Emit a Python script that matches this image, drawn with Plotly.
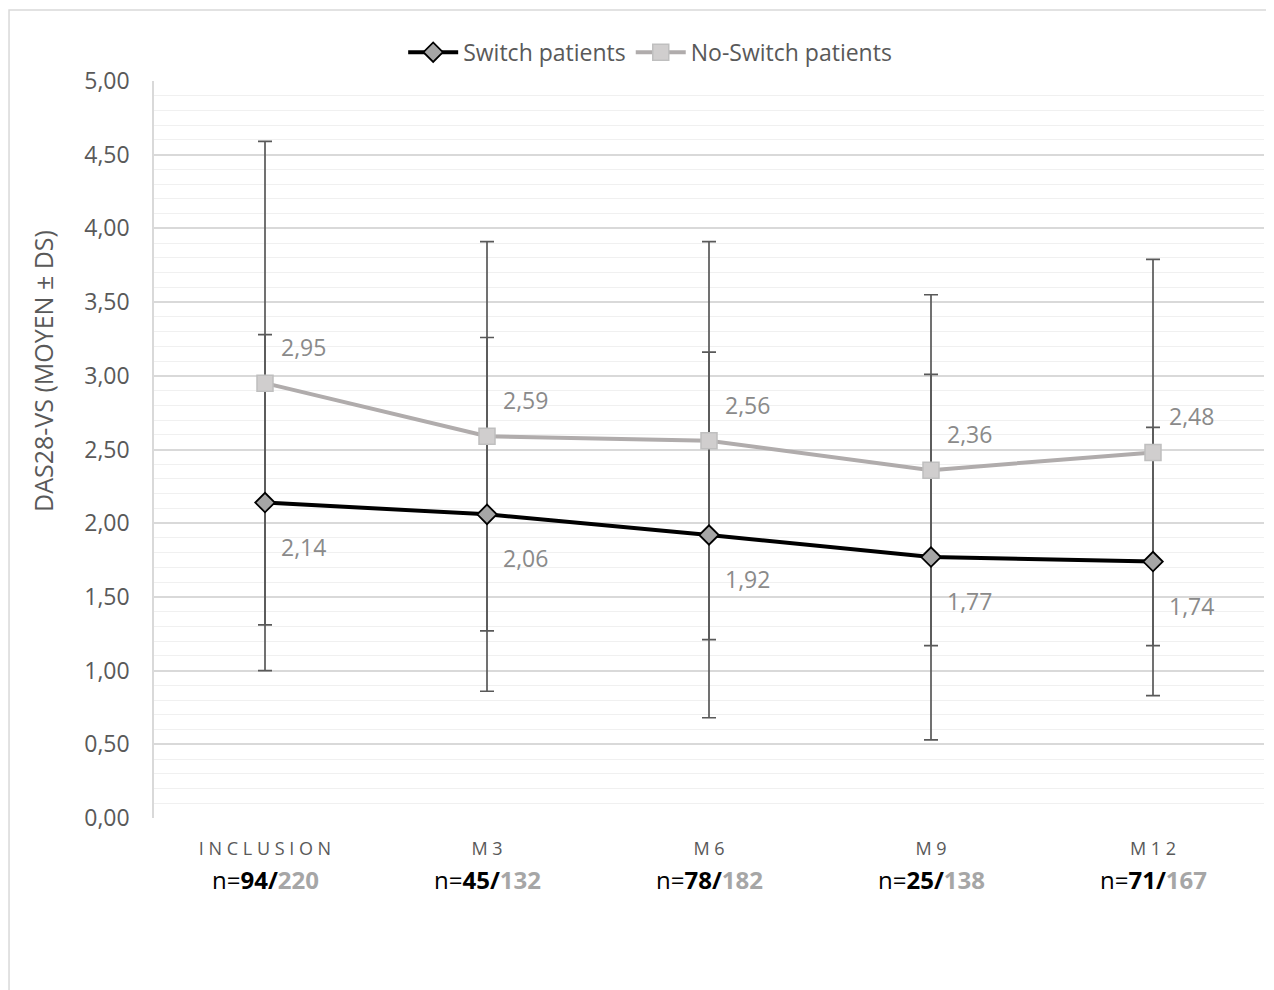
import plotly.graph_objects as go

categories = ["INCLUSION", "M3", "M6", "M9", "M12"]
tick_labels = ["I N C L U S I O N", "M 3", "M 6", "M 9", "M 1 2"]
switch_mean = [2.14, 2.06, 1.92, 1.77, 1.74]
switch_sd = [1.14, 1.20, 1.24, 1.24, 0.91]
noswitch_mean = [2.95, 2.59, 2.56, 2.36, 2.48]
noswitch_sd = [1.64, 1.32, 1.35, 1.19, 1.31]
n_switch = [94, 45, 78, 25, 71]
n_noswitch = [220, 132, 182, 138, 167]
y_title = "DAS28-VS (MOYEN ± DS)"

FONT = "Open Sans, DejaVu Sans, sans-serif"
NARROW = "Liberation Sans Narrow, Open Sans, sans-serif"
AXIS_GRAY = "#595959"
ERR = "#595959"

fig = go.Figure()

# error bars (drawn beneath the lines)
for mean, sd in [(noswitch_mean, noswitch_sd), (switch_mean, switch_sd)]:
    fig.add_trace(go.Scatter(
        x=categories, y=mean, mode="markers",
        marker=dict(size=1, opacity=0),
        error_y=dict(type="data", array=sd, visible=True, color=ERR,
                     thickness=1.7, width=7),
        showlegend=False, hoverinfo="skip"))

fig.add_trace(go.Scatter(
    x=categories, y=switch_mean, mode="lines+markers", name="Switch patients",
    line=dict(color="#000000", width=4),
    marker=dict(symbol="diamond", size=15, color="#a6a6a6",
                line=dict(color="#000000", width=1.8))))

fig.add_trace(go.Scatter(
    x=categories, y=noswitch_mean, mode="lines+markers", name="No-Switch patients",
    line=dict(color="#b0acac", width=4),
    marker=dict(symbol="square", size=16, color="#d0cece",
                line=dict(color="#bfbfbf", width=1.5))))

annotations = []
for c, v in zip(categories, noswitch_mean):
    annotations.append(dict(x=c, y=v, xref="x", yref="y", text=f"{v:.2f}".replace(".", ","),
                            showarrow=False, xshift=38, yshift=36,
                            font=dict(family=FONT, size=23, color="#8a8a8a")))
for c, v in zip(categories, switch_mean):
    annotations.append(dict(x=c, y=v, xref="x", yref="y", text=f"{v:.2f}".replace(".", ","),
                            showarrow=False, xshift=38, yshift=-44,
                            font=dict(family=FONT, size=23, color="#8a8a8a")))
for c, a, b in zip(categories, n_switch, n_noswitch):
    annotations.append(dict(x=c, y=0, xref="x", yref="y",
                            text=f"<span style='color:#000000'>n=<b>{a}/</b></span><span style='color:#a6a6a6'><b>{b}</b></span>",
                            showarrow=False, yshift=-61,
                            font=dict(family=NARROW, size=24, color="#000000")))
annotations.append(dict(x=-0.1, y=0.6065, xref="paper", yref="paper", text=y_title,
                        textangle=-90, showarrow=False, xanchor="center", yanchor="middle",
                        font=dict(family=NARROW, size=25, color=AXIS_GRAY)))

fig.update_layout(
    width=1266, height=982,
    margin=dict(l=146, r=10, t=73, b=172),
    paper_bgcolor="white", plot_bgcolor="white",
    separators=", ",
    font=dict(family=FONT, color=AXIS_GRAY),
    showlegend=True,
    legend=dict(orientation="h", x=0.447, xanchor="center", y=1.039, yanchor="middle",
                font=dict(family=FONT, size=23, color=AXIS_GRAY),
                itemwidth=50, bgcolor="rgba(0,0,0,0)"),
    annotations=annotations,
    shapes=[dict(type="rect", xref="paper", yref="paper",
                 x0=-0.1306, x1=1.02, y0=-0.26, y1=1.0963,
                 line=dict(color="#d9d9d9", width=1.5), layer="below")],
)

fig.update_xaxes(
    type="category", range=[-0.5, 4.5],
    tickmode="array", tickvals=categories, ticktext=tick_labels,
    tickfont=dict(family=FONT, size=18, color=AXIS_GRAY),
    showgrid=False, zeroline=False, showline=False, ticks="", ticklabelstandoff=18)

fig.update_yaxes(
    range=[0, 5], dtick=0.5, tick0=0, tickformat=".2f",
    tickfont=dict(family=FONT, size=23, color=AXIS_GRAY),
    showgrid=True, gridcolor="#d9d9d9", gridwidth=1.6,
    minor=dict(dtick=0.1, showgrid=True, gridcolor="#f0f0f0", gridwidth=1),
    zeroline=False, showline=True, linecolor="#d9d9d9", linewidth=1.5,
    ticks="", ticklabelstandoff=18)

fig.write_html("out.html")
